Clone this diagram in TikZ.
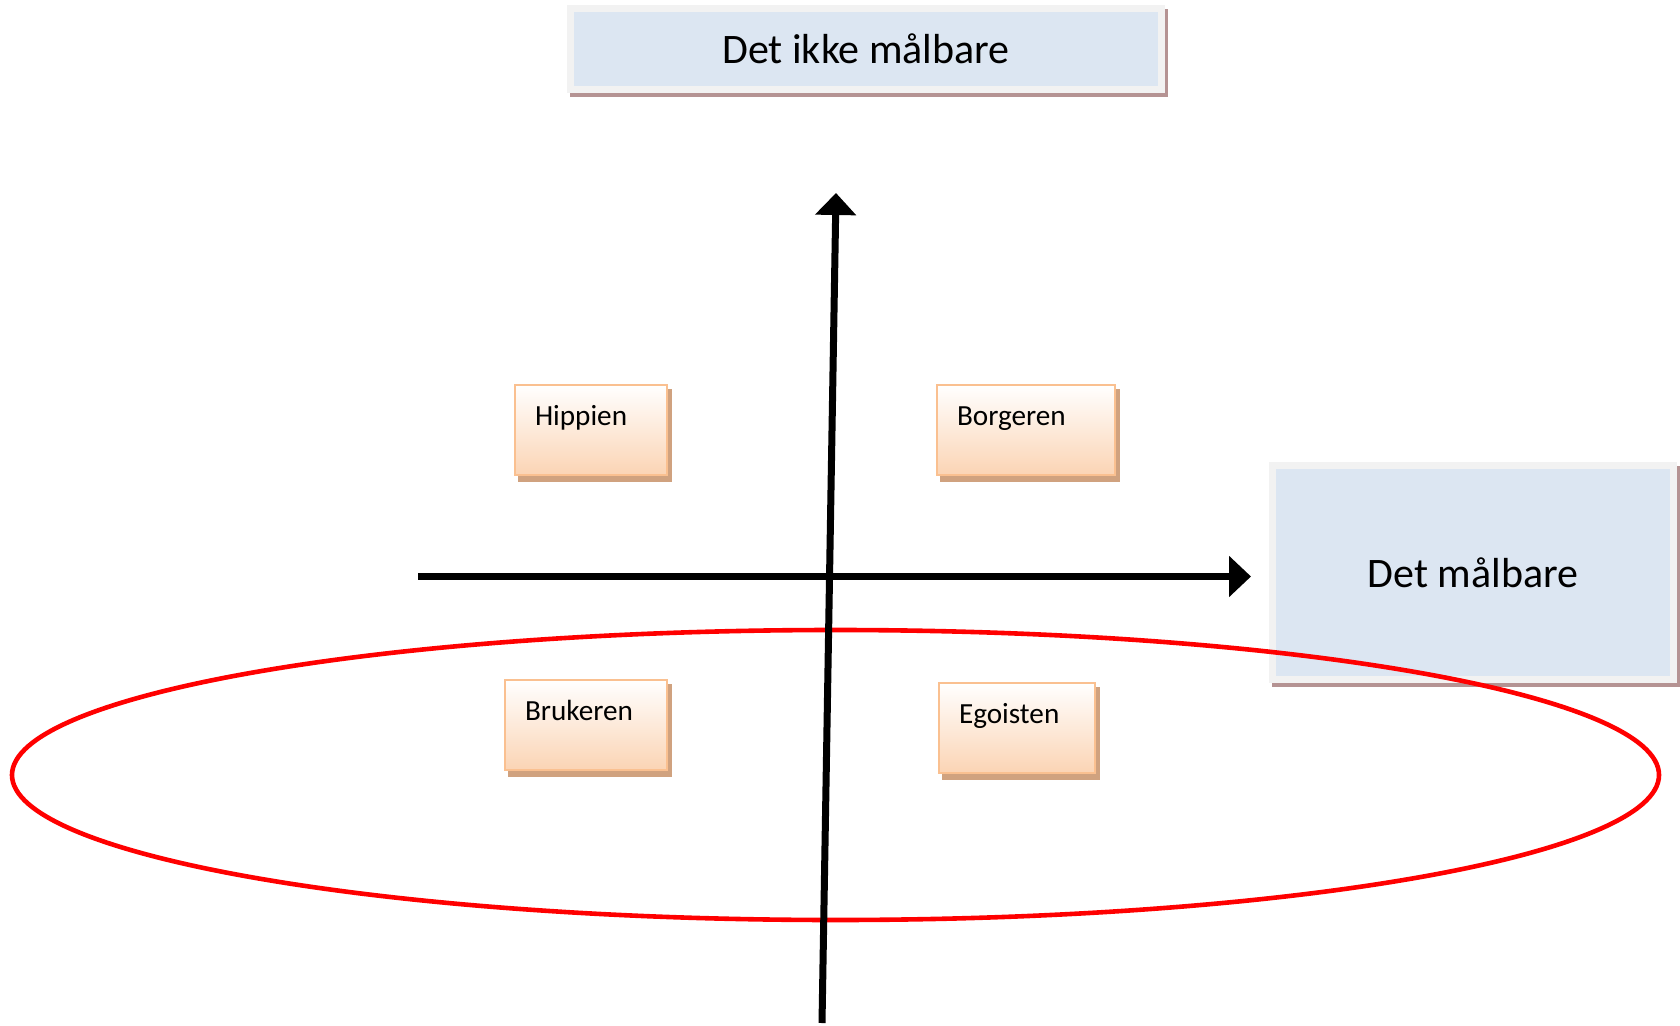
\documentclass[tikz,border=0pt]{standalone}
\usepackage{fontspec}
\setmainfont{Carlito}
\usetikzlibrary{arrows.meta,shadows}

\definecolor{frame}{HTML}{F2F2F2}
\definecolor{boxblue}{HTML}{DCE6F2}
\definecolor{rosy}{HTML}{B59393}
\definecolor{peach}{HTML}{FBD4B4}
\definecolor{peachline}{HTML}{FAC090}
\definecolor{tanshade}{HTML}{D0A27F}

\begin{document}
\begin{tikzpicture}[
    x=0.5pt, y=-0.5pt,
    every node/.style={outer sep=0pt},
    heading/.style={draw=frame, line width=3.5pt, fill=boxblue,
        font=\fontsize{21}{25}\selectfont,
        general shadow={fill=rosy, draw=rosy, line width=3.5pt, shadow xshift=1.5pt, shadow yshift=-2pt}},
    persona/.style={anchor=north west, draw=peachline, line width=1.2pt,
        top color=white, bottom color=peach, align=left, text width=#1,
        inner xsep=10pt, inner ysep=0pt, text height=20pt, text depth=25pt,
        font=\fontsize{14.6}{17.5}\selectfont,
        general shadow={fill=tanshade, draw=tanshade, line width=1.2pt, shadow xshift=2pt, shadow yshift=-2.8pt}},
    axis/.style={-{Triangle[length=11pt,width=20pt]}, line width=3.5pt},
    ring/.style={draw=red, line width=2.3pt}
]
\useasboundingbox (0,0) rectangle (1680,1026);

\node[heading, minimum width=295.5pt, minimum height=40.5pt] (ikkemaalbar) at (866,49) {Det ikke målbare};
\node[heading, minimum width=200.5pt, minimum height=107pt] (maalbar) at (1473,572.5) {Det målbare};

\node[persona=56pt] (hippien) at (515,385) {Hippien};
\node[persona=69pt] (borgeren) at (937,385) {Borgeren};
\node[persona=61pt] (brukeren) at (505,680) {Brukeren};
\node[persona=58pt] (egoisten) at (939,683) {Egoisten};

% the circled lower half
\coordinate (midt) at (835.5,775);
\draw[ring] (midt) ellipse [x radius=411.75pt, y radius=72.5pt];

% axes
\coordinate (ybunn) at (822,1023);
\coordinate (ytopp) at (836,193);
\coordinate (xvenstre) at (418,576.5);
\coordinate (xhoyre) at (1251,576.5);
\draw[axis] (ybunn) -- (ytopp);
\draw[axis] (xvenstre) -- (xhoyre);

\end{tikzpicture}
\end{document}
